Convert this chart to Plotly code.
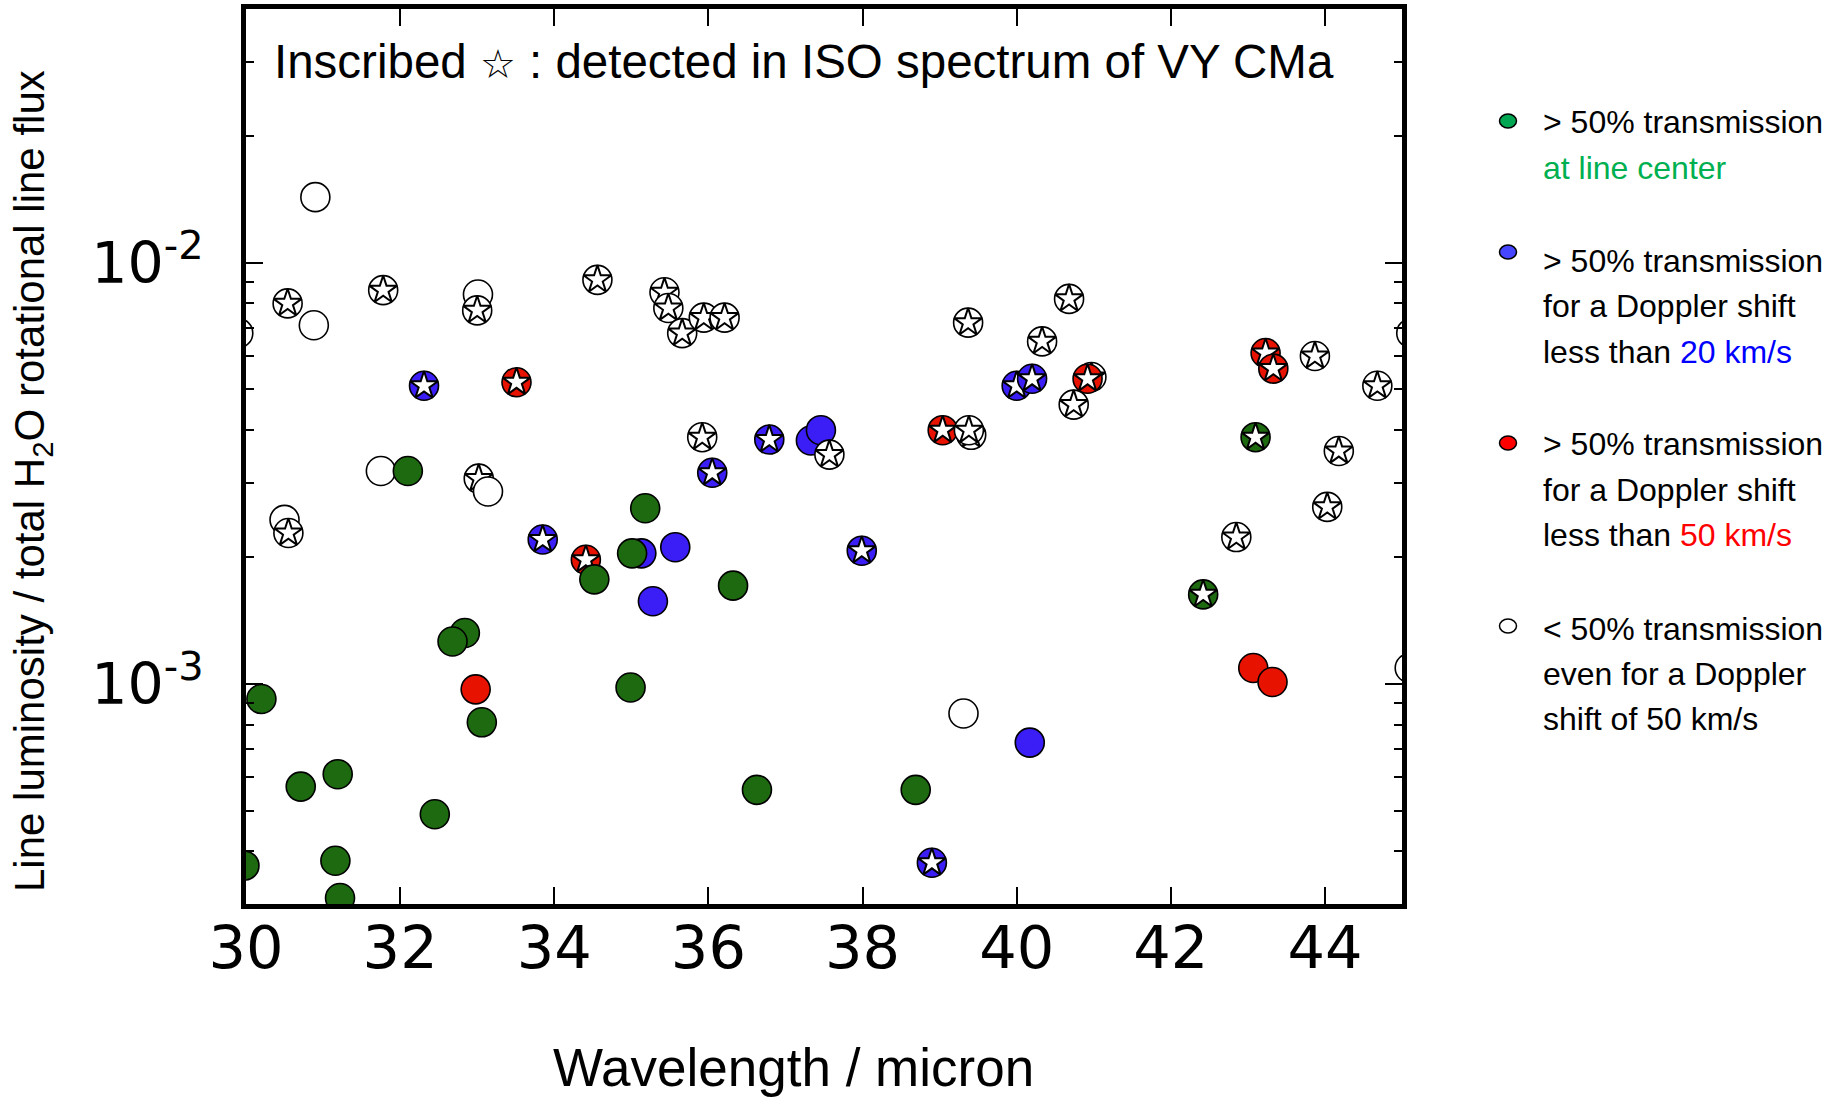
import math
import plotly.graph_objects as go

# ---------------- data ----------------
wavelength = [29.90, 29.98, 30.20, 30.50, 30.54, 30.55, 30.71, 30.88, 30.90, 31.16,
              31.19, 31.22, 31.75, 31.78, 32.10, 32.31, 32.45, 32.84, 32.68, 32.98,
              33.01, 33.00, 33.02, 33.06, 33.14, 33.51, 33.85, 34.41, 34.52, 34.56,
              34.99, 35.13, 35.01, 35.18, 35.28, 35.43, 35.48, 35.57, 35.66, 35.92,
              35.94, 36.05, 36.21, 36.32, 36.63, 36.79, 37.33, 37.46, 37.57, 37.99,
              38.69, 38.90, 39.04, 39.31, 39.37, 39.41, 39.38, 40.00, 40.17, 40.20,
              40.33, 40.68, 40.74, 40.97, 40.92, 42.42, 42.85, 43.07, 43.10, 43.23,
              43.32, 43.33, 43.87, 44.03, 44.18, 44.68, 45.12, 45.10]
ratio = [0.0068, 0.00037, 0.00092, 0.00245, 0.0080, 0.00228, 0.00057, 0.0071, 0.0143, 0.00038,
         0.00061, 0.00031, 0.0032, 0.0086, 0.0032, 0.0051, 0.00049, 0.00132, 0.00126, 0.00097,
         0.0084, 0.0077, 0.00307, 0.00081, 0.00286, 0.0052, 0.0022, 0.00197, 0.00177, 0.0091,
         0.00098, 0.00204, 0.00204, 0.00261, 0.00157, 0.0085, 0.0078, 0.00211, 0.0068, 0.00385,
         0.0074, 0.00317, 0.0074, 0.00171, 0.00056, 0.0038, 0.00378, 0.0040, 0.0035, 0.00207,
         0.00056, 0.000376, 0.0040, 0.00085, 0.0072, 0.0039, 0.0040, 0.0051, 0.000725, 0.0053,
         0.0065, 0.0082, 0.0046, 0.00535, 0.0053, 0.00163, 0.00223, 0.00109, 0.00385, 0.0061,
         0.00101, 0.0056, 0.0060, 0.00263, 0.00357, 0.0051, 0.0068, 0.00109]
# G: >50% at line centre, B: <20 km/s, R: <50 km/s, W: <50% even at 50 km/s
category = ["W", "G", "G", "W", "W", "W", "G", "W", "W", "G",
            "G", "G", "W", "W", "G", "B", "G", "G", "G", "R",
            "W", "W", "W", "G", "W", "R", "B", "R", "G", "W",
            "G", "B", "G", "G", "B", "W", "W", "B", "W", "W",
            "W", "B", "W", "G", "G", "B", "B", "B", "W", "B",
            "G", "B", "R", "W", "W", "W", "W", "B", "B", "B",
            "W", "W", "W", "W", "R", "G", "W", "R", "G", "R",
            "R", "R", "W", "W", "W", "W", "W", "W"]
# 1 = detected in ISO spectrum of VY CMa (inscribed star)
detected = [0, 0, 0, 0, 1, 1, 0, 0, 0, 0,
            0, 0, 0, 1, 0, 1, 0, 0, 0, 0,
            0, 1, 1, 0, 0, 1, 1, 1, 0, 1,
            0, 0, 0, 0, 0, 1, 1, 0, 1, 1,
            1, 1, 1, 0, 0, 1, 0, 0, 1, 1,
            0, 1, 1, 0, 1, 1, 1, 1, 0, 1,
            1, 1, 1, 1, 1, 1, 1, 0, 1, 1,
            0, 1, 1, 1, 1, 1, 0, 0]

x_ticks = [30, 32, 34, 36, 38, 40, 42, 44]
y_ticks = [1e-3, 1e-2]
y_tick_text = ["10<sup>-3</sup>", "10<sup>-2</sup>"]

legend_cats = ["G", "B", "R", "W"]
legend_lines = [
    ["&gt; 50% transmission", "<span style='color:#00b050'>at line center</span>"],
    ["&gt; 50% transmission", "for a Doppler shift",
     "less than <span style='color:#0000ff'>20 km/s</span>"],
    ["&gt; 50% transmission", "for a Doppler shift",
     "less than <span style='color:#ff0000'>50 km/s</span>"],
    ["&lt; 50% transmission", "even for a Doppler", "shift of 50 km/s"],
]

# ---------------- styling ----------------
fill = {"G": "#1e6a10", "B": "#3a1ef5", "R": "#e81200", "W": "#ffffff"}
legend_fill = {"G": "#00a651", "B": "#4646ff", "R": "#ff0000", "W": "#ffffff"}

W_FIG, H_FIG = 1829, 1097
L, R, T, B = 246, 427, 9, 193
PW, PH = W_FIG - L - R, H_FIG - T - B


def px_to_paper(px, py):
    return (px - L) / PW, (H_FIG - B - py) / PH


fig = go.Figure()
for x, y, c, d in zip(wavelength, ratio, category, detected):
    fig.add_trace(go.Scatter(
        x=[x], y=[y], mode="markers", showlegend=False, hoverinfo="x+y",
        marker=dict(symbol="circle", size=29, color=fill[c],
                    line=dict(color="black", width=1.6))))
    if d:
        fig.add_trace(go.Scatter(
            x=[x], y=[y], mode="markers", showlegend=False, hoverinfo="skip",
            marker=dict(symbol="star", size=21, color="white",
                        line=dict(color="black", width=2))))

axis_common = dict(showgrid=False, zeroline=False, showline=True, linewidth=5,
                   linecolor="black", mirror="ticks", ticks="inside",
                   tickcolor="black", tickwidth=1.5, ticklen=17)

fig.update_layout(
    width=W_FIG, height=H_FIG, autosize=False,
    margin=dict(l=L, r=R, t=T, b=B, autoexpand=False),
    paper_bgcolor="white", plot_bgcolor="white",
    xaxis=dict(range=[30, 45], tickmode="array", tickvals=x_ticks,
               ticktext=[str(v) for v in x_ticks], ticklabelstandoff=-12,
               tickfont=dict(family="DejaVu Sans", size=59, color="black"),
               automargin=False, **axis_common),
    yaxis=dict(type="log", range=[math.log10(3e-4), math.log10(4e-2)],
               tickmode="array", tickvals=y_ticks, ticktext=y_tick_text,
               ticklabelstandoff=26,
               tickfont=dict(family="DejaVu Sans", size=57, color="black"),
               minor=dict(ticks="inside", ticklen=8, tickwidth=1.5,
                          tickcolor="black", dtick="D1", showgrid=False),
               automargin=False, **axis_common),
)

annotations = []
shapes = []
# axis titles
xt_x, xt_y = px_to_paper(793, 1067)
annotations.append(dict(
    xref="paper", yref="paper", x=xt_x, y=xt_y, xanchor="center", yanchor="middle",
    showarrow=False, text="Wavelength / micron",
    font=dict(family="Liberation Sans", size=53, color="black")))
yt_x, yt_y = px_to_paper(32, 481)
annotations.append(dict(
    xref="paper", yref="paper", x=yt_x, y=yt_y, xanchor="center", yanchor="middle",
    showarrow=False, textangle=-90,
    text="Line luminosity / total H<sub>2</sub>O rotational line flux",
    font=dict(family="Liberation Sans", size=42, color="black")))

# title inside the plot
tx, ty = px_to_paper(272, 61)
annotations.append(dict(
    xref="paper", yref="paper", x=tx, y=ty, xanchor="left", yanchor="middle",
    showarrow=False,
    text="Inscribed <span style='font-size:40px;font-family:DejaVu Sans'>☆</span> : detected in ISO spectrum of VY CMa",
    font=dict(family="Liberation Sans", size=47.5, color="black")))

# custom legend on the right
marker_y = [121, 252, 443, 626]
first_line_y = [122.5, 261.3, 444.4, 628.7]
line_gap = 45.2
for cat, my, fy, lines in zip(legend_cats, marker_y, first_line_y, legend_lines):
    mx_p, my_p = px_to_paper(1508, my)
    shapes.append(dict(type="circle", xref="paper", yref="paper",
                       xsizemode="pixel", ysizemode="pixel",
                       xanchor=mx_p, yanchor=my_p, x0=-8.5, x1=8.5, y0=-7, y1=7,
                       fillcolor=legend_fill[cat], line=dict(color="black", width=1.5)))
    for i, t in enumerate(lines):
        ax_p, ay_p = px_to_paper(1541, fy + i * line_gap)
        annotations.append(dict(
            xref="paper", yref="paper", x=ax_p, y=ay_p, xanchor="left",
            yanchor="middle", showarrow=False, text=t,
            font=dict(family="Liberation Sans", size=32, color="black")))

fig.update_layout(annotations=annotations, shapes=shapes)
fig.write_html("out.html")
